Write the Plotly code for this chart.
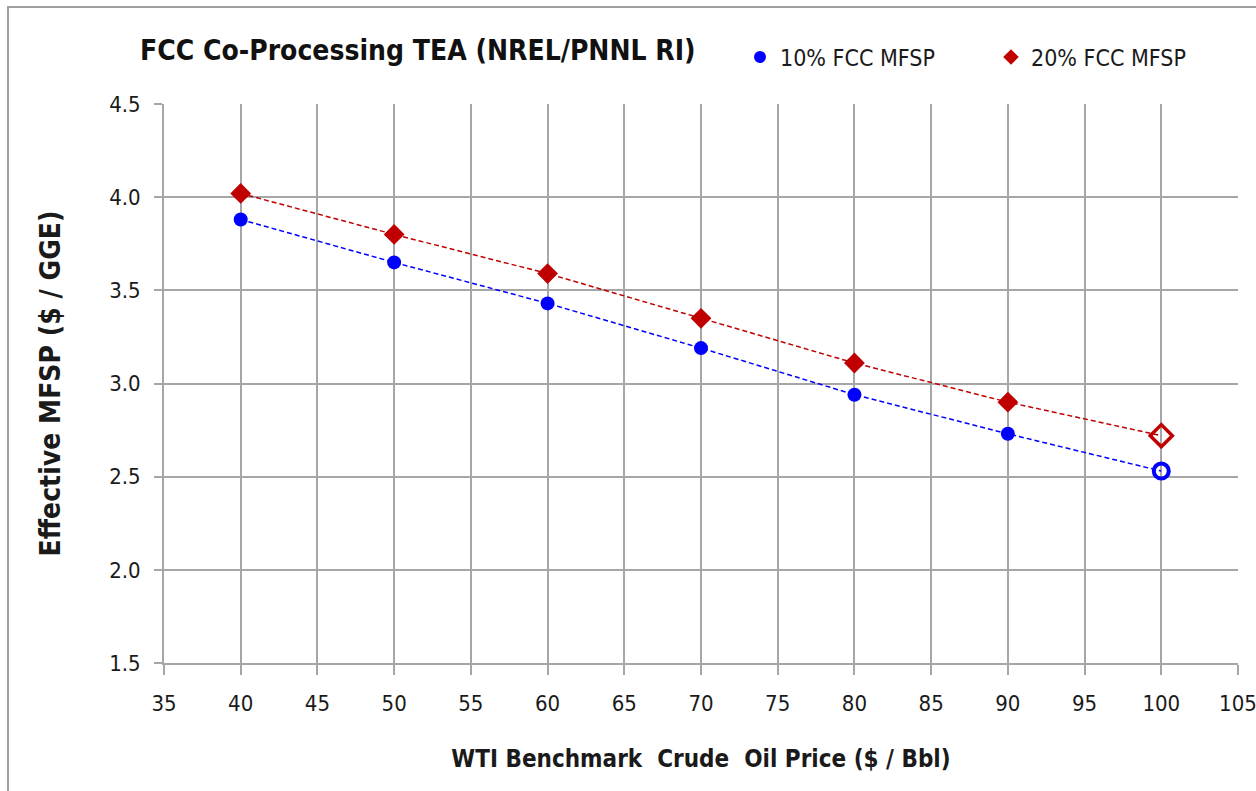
import plotly.graph_objects as go

oil_price = [40, 50, 60, 70, 80, 90, 100]
mfsp_10 = [3.88, 3.65, 3.43, 3.19, 2.94, 2.73, 2.53]
mfsp_20 = [4.02, 3.80, 3.59, 3.35, 3.11, 2.90, 2.72]
series_names = ["10% FCC MFSP", "20% FCC MFSP"]

BLUE = "#0000ff"
RED = "#c00000"
GRID = "#a6a6a6"
FONT = "DejaVu Sans Condensed, Liberation Sans Narrow, DejaVu Sans, sans-serif"

W, H = 1256, 791
L, R, T, B = 164, 1238, 104, 663


def px_x(p):
    return (p - L) / (R - L)


def px_y(p):
    return (B - p) / (B - T)


fig = go.Figure()

n = len(oil_price)
blue_sym = ["circle"] * (n - 1) + ["circle-open"]
red_sym = ["diamond"] * (n - 1) + ["diamond-open"]

fig.add_trace(go.Scatter(
    x=oil_price, y=mfsp_10, mode="lines+markers", name=series_names[0],
    showlegend=False,
    line=dict(color=BLUE, width=1.5, dash="5px,3px"),
    marker=dict(symbol=blue_sym, size=[14] * (n - 1) + [15], color=BLUE, opacity=1,
                line=dict(color=BLUE, width=[0] * (n - 1) + [4])),
))
fig.add_trace(go.Scatter(
    x=oil_price, y=mfsp_20, mode="lines+markers", name=series_names[1],
    showlegend=False,
    line=dict(color=RED, width=1.5, dash="5px,3px"),
    marker=dict(symbol=red_sym, size=[16] * (n - 1) + [17], color=RED, opacity=1,
                line=dict(color=RED, width=[0] * (n - 1) + [3.5])),
))
# legend entries (markers only)
fig.add_trace(go.Scatter(
    x=[None], y=[None], mode="markers", name=series_names[0],
    marker=dict(symbol="circle", size=12, color=BLUE),
))
fig.add_trace(go.Scatter(
    x=[None], y=[None], mode="markers", name=series_names[1],
    marker=dict(symbol="diamond", size=12, color=RED),
))

fig.update_layout(
    width=W, height=H,
    margin=dict(l=L, r=W - R, t=T, b=H - B),
    paper_bgcolor="white", plot_bgcolor="white",
    font=dict(family=FONT, size=22, color="#1a1a1a"),
    legend=dict(orientation="h", x=px_x(740), y=px_y(57), xanchor="left", yanchor="middle",
                font=dict(size=23, color="#1a1a1a"), itemwidth=30, entrywidth=206,
                bgcolor="rgba(0,0,0,0)"),
    xaxis=dict(
        range=[35, 105], dtick=5, tick0=35,
        showgrid=True, gridcolor=GRID, gridwidth=2,
        showline=True, linecolor=GRID, linewidth=2,
        ticks="outside", ticklen=10, tickwidth=2, tickcolor=GRID,
        ticklabelstandoff=10, ticklabeloverflow="allow", automargin=False,
        zeroline=False,
        title=dict(text="<b>WTI Benchmark  Crude  Oil Price ($ / Bbl)</b>",
                   font=dict(size=24, color="#1a1a1a"), standoff=35),
    ),
    yaxis=dict(
        range=[1.5, 4.5], dtick=0.5, tickformat=".1f",
        showgrid=True, gridcolor=GRID, gridwidth=2,
        showline=True, linecolor=GRID, linewidth=2,
        ticks="outside", ticklen=8, tickwidth=2, tickcolor=GRID,
        ticklabelstandoff=9, automargin=False,
        zeroline=False,
        title=dict(text="<b>Effective MFSP ($ / GGE)</b>",
                   font=dict(size=28, color="#1a1a1a"), standoff=40),
    ),
    shapes=[dict(type="rect", xref="paper", yref="paper",
                 x0=px_x(8), x1=px_x(1300), y0=px_y(900), y1=px_y(7),
                 line=dict(color="#a0a0a0", width=2), fillcolor="rgba(0,0,0,0)",
                 layer="below")],
    annotations=[dict(
        text="<b>FCC Co-Processing TEA (NREL/PNNL RI)</b>",
        xref="paper", yref="paper", x=px_x(138), y=px_y(50),
        xanchor="left", yanchor="middle", showarrow=False,
        font=dict(size=28, color="#111111", family=FONT),
    )],
)

fig.write_html("out.html")
